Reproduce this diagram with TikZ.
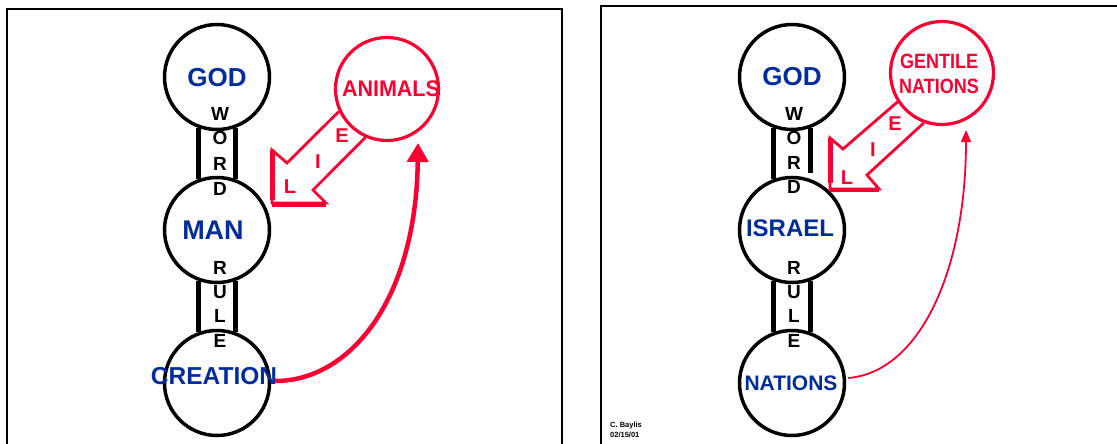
\documentclass[tikz,border=0pt]{standalone}
\usepackage{fontspec}
\setmainfont{Liberation Sans}
\usetikzlibrary{arrows.meta}
\definecolor{dred}{RGB}{250,0,50}
\definecolor{dblue}{RGB}{0,45,155}
\begin{document}
\begin{tikzpicture}[x=1pt,y=-1pt,
  circ/.style={circle,draw=black,line width=3.5pt,minimum size=105pt,inner sep=0pt},
  rcirc/.style={circle,draw=dred,line width=3.2pt,minimum size=103pt,inner sep=0pt},
  big/.style={font=\bfseries\fontsize{26}{26}\selectfont,text=dblue,inner sep=0pt},
  redtxt/.style={font=\bfseries\fontsize{#1}{#1}\selectfont,text=dred,inner sep=0pt,align=center},
  letter/.style={font=\bfseries\fontsize{19}{19}\selectfont,inner sep=0pt},
  bar/.style={line width=4.5pt},
  frame/.style={line width=2.5pt},
  hollow/.style={draw=dred,line width=2.8pt,line join=miter},
  tipL/.style={draw=dred,line width=5pt},
  lie/.style={font=\bfseries\fontsize{20}{20}\selectfont,text=dred,inner sep=0pt}
]
\useasboundingbox (0,0) rectangle (1117,444);
\clip (0,0) rectangle (1117,444);
% frames
\draw[frame] (7,470) -- (7,9) -- (562,9) -- (562,470);
\draw[frame] (601,470) -- (601,6) -- (1130,6);

% ===== Left panel =====
\node[circ] (god) at (217,77) {};
\node[circ] (man) at (217,230) {};
\node[circ] (creation) at (217,383) {};
\node[rcirc] (animals) at (387,89) {};
\node[big] (godt) at (217,78) {GOD};
\node[big,font=\bfseries\fontsize{27}{27}\selectfont] (mant) at (213,230) {MAN};
\node[big,font=\bfseries\fontsize{24.5}{24.5}\selectfont] (creationt) at (214,376) {CREATION};
\node[redtxt=21.5] (animalst) at (391,89) {\scalebox{1}[1.05]{ANIMALS}};
\draw[bar] (god.250) -- (man.110);
\draw[bar] (god.290) -- (man.70);
\draw[bar] (man.250) -- (creation.110);
\draw[bar] (man.290) -- (creation.70);
\foreach \c/\y [count=\i] in {W/114,O/138,R/164,D/189} \node[letter] (lw\i) at (220,\y) {\c};
\foreach \c/\y [count=\i] in {R/268,U/292,L/316,E/341} \node[letter] (lr\i) at (220,\y) {\c};
% hollow arrow
\coordinate (lt) at (272,203);
\coordinate (lh1) at (272,150);
\coordinate (lh2) at (326,203);
\coordinate (lu) at (287,163);
\coordinate (ll) at (313,190);
\draw[hollow] (animals.205) -- (lu) -- (lh1) -- (lt) -- (lh2) -- (ll) -- (animals.246);
\draw[tipL] (lh1) -- ([yshift=3pt]lt);
\draw[draw=dred,line width=4pt] ([yshift=-1.5pt]lt) -- ([yshift=-1.5pt]lh2);
\node[lie] (le) at (342,136) {E};
\node[lie] (li) at (318,162) {I};
\node[lie] (ll2) at (290,187) {L};
% curve
\coordinate (aend) at (418,143);
\draw[dred,line width=4.5pt,-{Triangle[length=19pt,width=21pt]}]
  ([shift={(4,-2)}]creation.east) .. controls (350,381) and (416,300) .. (aend);

% ===== Right panel =====
\node[circ] (god2) at (792,77) {};
\node[circ] (israel) at (792,230) {};
\node[circ] (nations) at (792,383) {};
\node[rcirc] (gentile) at (942,73) {};
\node[big] (god2t) at (792,77) {GOD};
\node[big,font=\bfseries\fontsize{24}{24}\selectfont] (israelt) at (790,228) {ISRAEL};
\node[big,font=\bfseries\fontsize{21}{21}\selectfont] (nationst) at (791,383) {NATIONS};
\node[redtxt=18,font=\bfseries\fontsize{18}{24.5}\selectfont] (gentilet) at (939,74) {\scalebox{1}[1.15]{GENTILE}\\\scalebox{1}[1.15]{NATIONS}};
\draw[bar] (god2.250) -- (israel.110);
\draw[bar,shorten >=6pt] (god2.290) -- (israel.70);
\draw[bar] (israel.250) -- (nations.110);
\draw[bar] (israel.290) -- (nations.70);
\foreach \c/\y [count=\i] in {W/114,O/138,R/163,D/187} \node[letter] (rw\i) at (794,\y) {\c};
\foreach \c/\y [count=\i] in {R/268,U/292,L/316,E/341} \node[letter] (rr\i) at (794,\y) {\c};
\coordinate (rt) at (830,189);
\coordinate (rh1) at (830,138);
\coordinate (rh2) at (879,189);
\coordinate (ru) at (843,149);
\coordinate (rl) at (867,175);
\draw[hollow] (gentile.213) -- (ru) -- (rh1) -- (rt) -- (rh2) -- (rl) -- (gentile.250);
\draw[tipL] (rh1) -- ([yshift=6pt]rt);
\draw[draw=dred,line width=4pt] ([yshift=-1pt]rt) -- ([yshift=-1pt]rh2);
\node[lie] (re) at (895,124) {E};
\node[lie] (ri) at (873,150) {I};
\node[lie] (rl2) at (847,178) {L};
\coordinate (gend) at (966,130);
\draw[dred,line width=1.8pt,-{Triangle[length=12pt,width=10pt]}]
  ([shift={(2,-5)}]nations.east) .. controls (920,372) and (966,270) .. (gend);
\node[font=\bfseries\fontsize{7.5}{9.5}\selectfont,align=left,anchor=north west,inner sep=0pt] (sig) at (610,422) {C. Baylis\\02/15/01};
\end{tikzpicture}
\end{document}
